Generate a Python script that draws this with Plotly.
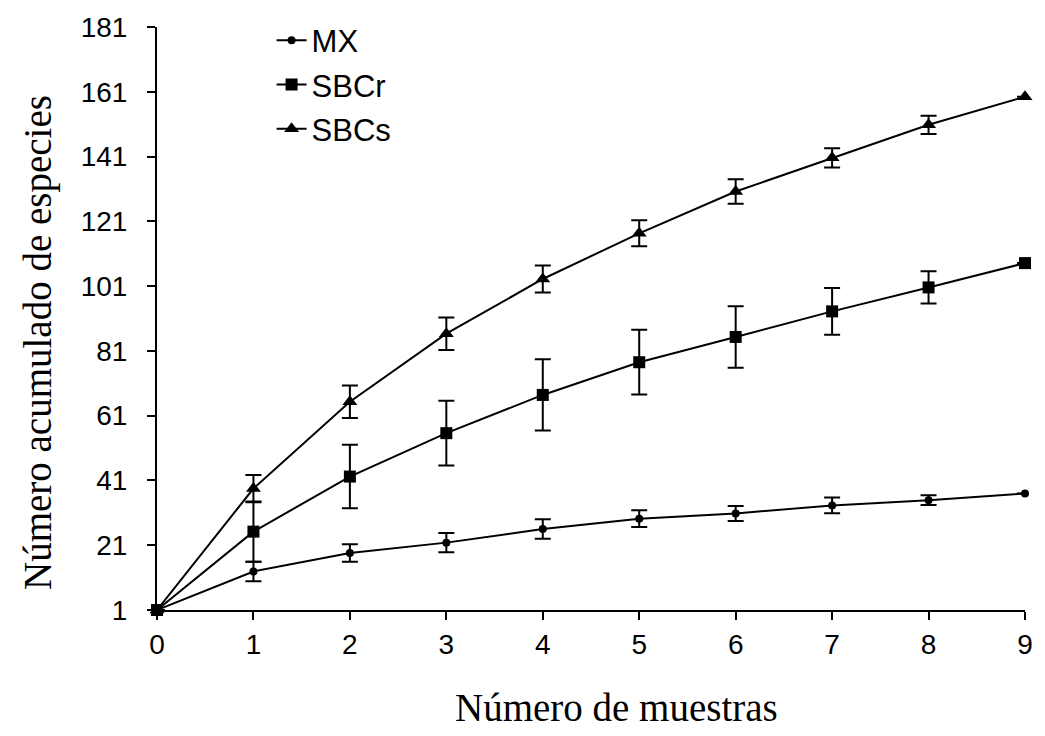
import plotly.graph_objects as go

muestras = [0, 1, 2, 3, 4, 5, 6, 7, 8, 9]

mx = [1, 12.9, 18.6, 21.8, 26.0, 29.2, 30.8, 33.3, 34.9, 37.0]
mx_err = [0, 3.0, 2.7, 3.0, 3.0, 2.6, 2.3, 2.4, 1.5, 0]

sbcr = [1, 25.2, 42.2, 55.6, 67.4, 77.5, 85.3, 93.2, 100.6, 108.1]
sbcr_err = [0, 9.3, 9.8, 10.0, 11.0, 10.0, 9.5, 7.2, 5.0, 0]

sbcs = [1, 38.5, 65.3, 86.3, 103.2, 117.3, 130.2, 140.6, 150.8, 159.5]
sbcs_err = [0, 4.2, 5.0, 5.0, 4.2, 4.0, 3.8, 3.0, 2.8, 0]

y_ticks = [1, 21, 41, 61, 81, 101, 121, 141, 161, 181]
x_ticks = [0, 1, 2, 3, 4, 5, 6, 7, 8, 9]

series = [
    ("MX", mx, mx_err, "circle", 8),
    ("SBCr", sbcr, sbcr_err, "square", 12),
    ("SBCs", sbcs, sbcs_err, "triangle-up", 13),
]

fig = go.Figure()
for name, vals, errs, sym, size in series:
    fig.add_trace(go.Scatter(
        x=muestras, y=vals, name=name, mode="lines+markers",
        legendgroup=name,
        line=dict(color="black", width=2),
        marker=dict(symbol=sym, size=size, color="black"),
        error_y=dict(type="data", array=errs, visible=True,
                     color="black", thickness=2, width=8),
        cliponaxis=False,
    ))

fig.update_layout(
    width=1045, height=736,
    margin=dict(l=157, r=14, t=25, b=126),
    paper_bgcolor="white", plot_bgcolor="white",
    showlegend=True,
    legend=dict(x=0.132, y=1.023, xanchor="left", yanchor="top",
                font=dict(family="Liberation Sans, Arial", size=31, color="black"),
                bgcolor="rgba(0,0,0,0)", itemwidth=30, traceorder="grouped",
                tracegroupgap=1),
    font=dict(family="Liberation Sans, Arial", color="black"),
    annotations=[
        dict(
            text="Número acumulado de especies", textangle=-90,
            xref="paper", yref="paper", x=0, y=0.458, xshift=-119,
            xanchor="center", yanchor="middle", showarrow=False,
            font=dict(family="Liberation Serif, Times New Roman", size=39, color="black"),
        ),
        dict(
            text="Número de muestras",
            xref="paper", yref="paper", x=0.5, y=0, xshift=25, yshift=-97,
            xanchor="center", yanchor="middle", showarrow=False,
            font=dict(family="Liberation Serif, Times New Roman", size=39, color="black"),
        ),
    ],
)
fig.update_xaxes(
    range=[0, 9], tickvals=x_ticks, showline=True, linecolor="black", linewidth=2,
    ticks="outside", ticklen=8, tickwidth=2, tickcolor="black",
    showgrid=False, zeroline=False,
    tickfont=dict(family="Liberation Sans, Arial", size=28, color="black"),
)
fig.update_yaxes(
    range=[1, 181], tickvals=y_ticks, showline=True, linecolor="black", linewidth=2,
    ticks="outside", ticklen=8, tickwidth=2, tickcolor="black",
    showgrid=False, zeroline=False, ticklabelstandoff=14,
    tickfont=dict(family="Liberation Sans, Arial", size=28, color="black"),
)

fig.write_html("out.html")
